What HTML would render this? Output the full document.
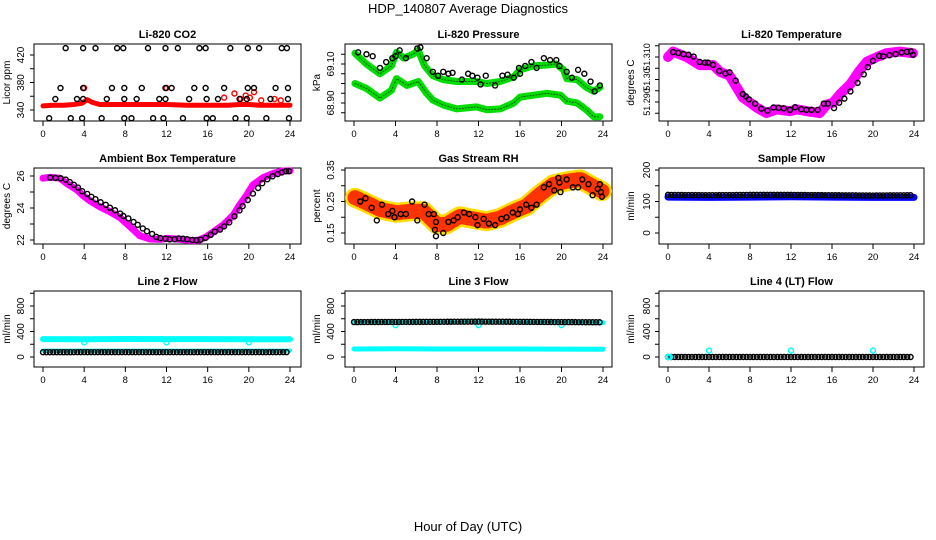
<!DOCTYPE html>
<html><head><meta charset="utf-8"><style>
body{margin:0;background:#fff}
svg{display:block;font-family:"Liberation Sans",sans-serif}
</style></head><body>
<svg id="c" width="936" height="540" viewBox="0 0 936 540">
<text x="468" y="13" text-anchor="middle" font-size="13">HDP_140807  Average Diagnostics</text>
<text x="468" y="531" text-anchor="middle" font-size="13">Hour of Day (UTC)</text>
</svg>
<script>
// ---- data ----
const xTicks=[0,4,8,12,16,20,24];
// CO2
const co2RedH=[0,1,2,3,3.8,4.3,4.8,5.5,6,8,10,12,14,16,17,18,19,20,21,22,23,24];
const co2RedV=[346,347,347,348,350,355,351,348,348,348,348,348,347,347,347,347,348,348,347,347,347,347];
const co2RedPtsH=[4,12,17.6,18.6,19.2,19.7,20.1,20.5,21.2,22.5,23.1];
const co2RedPtsV=[372,372,358,364,356,361,358,366,354,356,354];
const co2BlkH=[2.2,3.9,5.1,7.2,7.8,10.2,11.9,13.1,15.2,15.8,18.2,19.9,21.0,23.2,23.7,
1.7,3.9,6.7,7.9,9.6,11.9,12.5,14.7,15.8,17.6,19.9,20.5,22.6,23.8,
1.2,3.3,3.9,6.2,7.9,9.1,11.3,11.9,14.2,15.9,17.0,19.1,19.8,22.1,23.8,
0.6,2.7,3.8,5.7,7.9,8.6,10.7,11.7,13.6,15.9,16.5,18.7,19.8,21.7,23.9];
const co2BlkV=[430,430,430,430,430,430,430,430,430,430,430,430,430,430,430,
372,372,372,372,372,372,372,372,372,372,372,372,372,372,
356,356,356,356,356,356,356,356,356,356,356,356,356,356,356,
328,328,328,328,328,328,328,328,328,328,328,328,328,328,328];
// Pressure
const prUpH=[0.1,1.2,2.5,3.6,4.1,4.8,5.7,6.2,6.8,7.6,8.6,9.9,10.9,11.8,12.8,14.1,15.4,16.0,17.3,18.6,19.5,20.2,20.5,21.5,22.4,23.1,23.7];
const prUpV=[69.155,69.10,69.05,69.09,69.16,69.13,69.15,69.17,69.09,69.04,69.02,69.01,69.01,69.01,69.00,69.01,69.035,69.07,69.09,69.095,69.10,69.07,69.025,69.02,68.98,68.96,68.98];
const prLoH=[0.1,1.2,2.5,3.6,4.1,5.1,6.2,7.0,7.6,8.6,9.9,11.8,12.8,14.1,15.4,16.0,17.3,18.6,19.9,20.5,21.5,22.4,23.1,23.7];
const prLoV=[69.00,68.975,68.925,68.965,69.025,68.99,69.01,68.95,68.915,68.89,68.87,68.88,68.865,68.87,68.90,68.93,68.94,68.95,68.94,68.91,68.90,68.865,68.83,68.83];
const prBlkH=[0.4,1.2,1.8,2.5,3.1,3.7,4.0,4.4,5.0,6.1,6.4,7.0,7.6,8.1,8.6,9.1,9.5,10.4,11.0,11.4,11.9,12.2,12.7,13.6,14.3,14.8,15.4,15.9,16.0,16.5,17.1,17.6,18.3,18.9,19.5,19.8,20.5,21.0,21.6,22.2,22.8,23.2,23.7];
const prBlkV=[69.16,69.15,69.14,69.08,69.11,69.13,69.14,69.17,69.13,69.18,69.185,69.13,69.06,69.04,69.06,69.05,69.055,69.02,69.05,69.04,69.03,68.995,69.04,68.99,69.04,69.045,69.03,69.08,69.05,69.09,69.11,69.08,69.13,69.12,69.12,69.09,69.06,69.03,69.07,69.05,69.01,68.96,68.99];
// Li-820 temperature
const tmpH=[0,0.5,1.8,3.1,4.4,5.1,6.0,6.7,7.3,7.8,8.7,9.6,10.6,11.9,12.6,13.5,14.8,15.5,16.1,16.8,17.8,18.7,19.4,20.4,21.3,22.6,23.9];
const tmpV=[51.310,51.3124,51.310,51.3064,51.3064,51.3033,51.3018,51.2965,51.292,51.2904,51.2874,51.2851,51.2867,51.2859,51.2867,51.2859,51.2851,51.2889,51.2897,51.2935,51.298,51.304,51.3079,51.310,51.3117,51.3124,51.3117];
const tmpBlkH=[0.5,1.0,1.5,2.0,2.5,3.1,3.6,3.9,4.4,5.0,5.6,6.0,6.6,7.3,7.6,7.9,8.5,9.1,9.7,10.3,10.8,11.3,11.9,12.4,13.0,13.5,14.0,14.6,15.2,15.6,16.2,16.7,17.2,17.8,18.5,19.1,19.5,20.0,20.6,21.0,21.6,22.2,22.8,23.3,23.7,23.9];
const tmpBlkV=[51.3122,51.3118,51.3113,51.311,51.3102,51.3078,51.3075,51.3075,51.3065,51.3038,51.3027,51.3032,51.2995,51.2935,51.2925,51.2912,51.2893,51.287,51.2862,51.2876,51.2874,51.2872,51.2865,51.2877,51.2868,51.2865,51.2865,51.2865,51.2893,51.2893,51.2873,51.2897,51.2915,51.2947,51.2985,51.3023,51.3055,51.3083,51.3105,51.3103,51.3108,51.3113,51.3120,51.3123,51.3125,51.3110];
// Ambient
const ambH=[0.0,0.7,1.65,2.3,3.3,3.9,4.6,5.5,6.5,7.5,8.1,8.8,9.4,10.4,11.4,12.0,13.0,13.9,14.6,15.2,15.9,16.5,17.5,18.5,19.1,19.8,20.4,21.4,22.4,23.3,24.0];
const ambV=[25.86,25.92,25.86,25.54,25.13,24.77,24.44,24.08,23.77,23.39,23.04,22.63,22.27,22.06,22.04,22.1,22.06,22.0,21.96,22.0,22.21,22.48,22.94,23.56,24.19,24.81,25.44,25.9,26.17,26.31,26.33];
const ambBlkH=[0.7,1.2,1.7,2.2,2.6,3.0,3.4,3.8,4.3,4.7,5.1,5.6,6.1,6.5,7.0,7.5,7.8,8.3,8.8,9.2,9.7,10.1,10.6,11.0,11.4,11.9,12.3,12.8,13.2,13.6,14.0,14.5,14.9,15.3,15.8,16.3,16.7,17.2,17.6,18.1,18.6,19.1,19.4,19.9,20.4,20.9,21.3,21.8,22.3,22.8,23.2,23.6,23.9];
const ambBlkV=[25.9,25.88,25.86,25.78,25.62,25.45,25.28,25.05,24.88,24.7,24.55,24.36,24.2,24.02,23.86,23.65,23.5,23.35,23.13,22.95,22.72,22.55,22.38,22.2,22.12,22.08,22.04,22.05,22.1,22.08,22.05,22.0,21.99,22.02,22.13,22.32,22.52,22.65,22.85,23.1,23.48,23.85,24.12,24.5,24.9,25.25,25.55,25.8,25.98,26.12,26.22,26.3,26.3];
// RH
const rhH=[0.1,1.2,2.5,4.1,5.4,6.7,8.0,8.9,10.2,11.8,12.8,14.1,15.4,16.6,17.9,19.2,20.5,21.8,22.7,23.9];
const rhV=[0.262,0.246,0.225,0.214,0.219,0.219,0.177,0.177,0.203,0.193,0.187,0.198,0.219,0.235,0.272,0.304,0.314,0.320,0.304,0.283];
const rhBlkH=[0.6,1.1,1.7,2.2,2.7,3.3,3.7,3.9,4.5,5.0,5.6,6.1,6.8,7.2,7.7,7.9,7.8,7.9,8.6,9.1,9.6,10.0,10.6,11.1,11.7,11.9,12.5,13.0,13.6,14.2,14.7,15.3,15.8,16.0,16.6,17.1,17.6,18.3,18.8,19.3,19.7,19.8,19.9,20.5,21.1,21.6,22.0,22.6,23.0,23.5,23.7,23.8,23.9];
const rhBlkV=[0.25,0.26,0.23,0.19,0.24,0.21,0.22,0.2,0.21,0.21,0.25,0.19,0.24,0.21,0.21,0.185,0.16,0.14,0.15,0.185,0.19,0.2,0.215,0.21,0.2,0.175,0.195,0.18,0.175,0.195,0.2,0.215,0.21,0.225,0.24,0.23,0.24,0.295,0.305,0.285,0.325,0.31,0.28,0.32,0.295,0.295,0.32,0.305,0.27,0.29,0.305,0.28,0.265];
// Sample flow
const sfH=[0,4,8,12,16,20,24];
const sfBlue=[114,113,114,115,114,113,113];
const sfBlk=[121,120,121,121,120,119,120];
// Line 2 flow
const l2H=[0,4,8,12,16,20,24];
const l2CyanHi=[280,278,282,280,281,279,278];
const l2CyanLo=[100,100,100,100,100,100,100];
const l2Blk=[75,76,76,76,76,76,76];
const l2DipH=[4,12,20];
const l2DipV=[230,230,230];
// Line 3 flow
const l3H=[0,4,8,12,16,20,24];
const l3CyanHi=[545,545,555,558,550,545,540];
const l3CyanLo=[125,128,125,126,125,124,122];
const l3Blk=[548,550,552,555,552,548,545];
const l3DipH=[4,12,20];
const l3DipV=[500,500,500];
// Line 4 flow
const l4H=[0,4,8,12,16,20,24];
const l4Blk=[0,0,0,0,0,0,0];
const l4CyanH=[0,0.2,4,12,20];
const l4CyanV=[0,0,100,100,100];

// ---- rendering ----
const svg=document.getElementById('c');
const NS='http://www.w3.org/2000/svg';
function mk(tag,attrs,parent){const e=document.createElementNS(NS,tag);for(const k in attrs)e.setAttribute(k,attrs[k]);(parent||svg).appendChild(e);return e;}
const cols=[{l:34,r:301,x0:43,x24:290,tl:20,tt:6},{l:345,r:612,x0:354,x24:603,tl:330,tt:316},{l:659,r:924,x0:668,x24:914,tl:646,tt:630}];
const rows=[{t:44,b:121},{t:168,b:244},{t:291,b:367}];
function panel(ci,ri,title,ytitle,v1,p1,v2,p2,ticks,labels,labelTxt,lfs){
  const c=cols[ci],r=rows[ri];
  const g=mk('g',{});
  
  
  const X=h=>c.x0+(c.x24-c.x0)*h/24;
  const Y=v=>p1+(v-v1)*(p2-p1)/(v2-v1);
  const box=mk('rect',{x:c.l,y:r.t,width:c.r-c.l,height:r.b-r.t,fill:'none',stroke:'#000','stroke-width':1},g);
  
  
  const tt=mk('text',{x:(c.l+c.r)/2,y:r.t-6,'text-anchor':'middle','font-size':11,'font-weight':'bold'},g);
  tt.textContent=title;
  
  
  const yt=mk('text',{x:0,y:0,'text-anchor':'middle','font-size':10,transform:`translate(${c.tt+4},${(r.t+r.b)/2}) rotate(-90)`},g);
  yt.textContent=ytitle;
  
  
  ticks.forEach(v=>{mk('line',{x1:c.l-4,x2:c.l,y1:Y(v),y2:Y(v),stroke:'#000'},g);});
  labels.forEach((v,i)=>{const t=mk('text',{x:0,y:0,'text-anchor':'middle','font-size':lfs||10,transform:`translate(${c.tl+4},${Y(v)}) rotate(-90)`},g);t.textContent=labelTxt?labelTxt[i]:String(v);
    
    });
  xTicks.forEach(h=>{mk('line',{x1:X(h),x2:X(h),y1:r.b,y2:r.b+5,stroke:'#000'},g);
    const t=mk('text',{x:X(h),y:r.b+16,'text-anchor':'middle','font-size':9.5},g);t.textContent=h;
    
    });
  const clip=mk('g',{},g);
  return {g:clip,X,Y};
}
function band(P,H,V,color,w,name){
  const pts=H.map((h,i)=>P.X(h).toFixed(1)+','+P.Y(V[i]).toFixed(1)).join(' ');
  const e=mk('polyline',{points:pts,fill:'none',stroke:color,'stroke-width':w,'stroke-linejoin':'round','stroke-linecap':'round'},P.g);
  
  
  return e;
}
function pts(P,H,V,color,name,r){
  H.forEach((h,i)=>{const e=mk('circle',{cx:P.X(h),cy:P.Y(V[i]),r:r||2.5,fill:'none',stroke:color,'stroke-width':1.4},P.g);
    
    });
}
function along(P,H,V,color,name,step){
  for(let i=0;i<H.length-1;i++){
    const n=Math.round((H[i+1]-H[i])/step);
    for(let k=0;k<n;k++){const f=k/n;const h=H[i]+(H[i+1]-H[i])*f;const v=V[i]+(V[i+1]-V[i])*f;
      const e=mk('circle',{cx:P.X(h),cy:P.Y(v),r:2.5,fill:'none',stroke:color,'stroke-width':1.4},P.g);
      
      }
  }
}
// CO2
let P=panel(0,0,'Li-820 CO2','Licor ppm',340,110,420,55,[340,360,380,400,420],[340,380,420]);
band(P,co2RedH,co2RedV,'#ff0000',5,'co2-red-series');
pts(P,co2RedPtsH,co2RedPtsV,'#ff0000','co2-red-point');
pts(P,co2BlkH,co2BlkV,'#000','co2-black-point');
// Pressure
P=panel(1,0,'Li-820 Pressure','kPa',69.10,64,68.90,103,[68.85,68.90,68.95,69.00,69.05,69.10,69.15],[68.90,69.10],['68.90','69.10']);
band(P,prUpH,prUpV,'#00dd00',7,'pressure-green-upper');
band(P,prLoH,prLoV,'#00dd00',7,'pressure-green-lower');
band(P,prUpH,prUpV,'#005500',1,'pressure-green-texture').setAttribute('stroke-dasharray','1 2');
band(P,prLoH,prLoV,'#005500',1,'pressure-green-texture-lower').setAttribute('stroke-dasharray','1 2');
pts(P,prBlkH,prBlkV,'#000','pressure-black-point');
// Li-820 temperature
P=panel(2,0,'Li-820 Temperature','degrees C',51.310,57,51.290,102,[51.285,51.290,51.295,51.300,51.305,51.310,51.315],[51.290,51.300,51.310],['51.290','51.30','51.310'],9);
band(P,tmpH,tmpV,'#ff00ff',10,'li820-temp-magenta');
pts(P,tmpBlkH,tmpBlkV,'#000','li820-temp-black-point');
// Ambient
P=panel(0,1,'Ambient Box Temperature','degrees C',26,176,22,240,[22,23,24,25,26],[22,24,26]);
band(P,ambH,ambV,'#ff00ff',7,'ambient-magenta');
pts(P,ambBlkH,ambBlkV,'#000','ambient-black-point');
// RH
P=panel(1,1,'Gas Stream RH','percent',0.35,170,0.15,233,[0.15,0.20,0.25,0.30,0.35],[0.15,0.25,0.35],['0.15','0.25','0.35']);
band(P,rhH,rhV,'#ffdd00',20,'rh-yellow-band');
band(P,rhH,rhV,'#ff3300',15,'rh-red-texture').setAttribute('stroke-dasharray','1.5 2.5');
pts(P,rhBlkH,rhBlkV,'#000','rh-black-point');
// Sample flow
P=panel(2,1,'Sample Flow','ml/min',200,170,0,233,[0,50,100,150,200],[0,100,200]);
band(P,sfH,sfBlue,'#0000ff',7,'sample-flow-blue');
along(P,sfH,sfBlk,'#000','sample-flow-black-point',0.33);
// Line 2
P=panel(0,2,'Line 2 Flow','ml/min',0,357,800,306,[0,200,400,600,800,1000],[0,400,800]);
band(P,l2H,l2CyanHi,'#00ffff',6,'line2-cyan-upper');
band(P,l2H,l2CyanLo,'#00ffff',4,'line2-cyan-lower');
pts(P,l2DipH,l2DipV,'#00ffff','line2-cyan-dip');
along(P,l2H,l2Blk,'#000','line2-black-point',0.33);
// Line 3
P=panel(1,2,'Line 3 Flow','ml/min',0,357,800,306,[0,200,400,600,800,1000],[0,400,800]);
band(P,l3H,l3CyanHi,'#00ffff',5,'line3-cyan-upper');
band(P,l3H,l3CyanLo,'#00ffff',5,'line3-cyan-lower');
pts(P,l3DipH,l3DipV,'#00ffff','line3-cyan-dip');
along(P,l3H,l3Blk,'#000','line3-black-point',0.33);
// Line 4
P=panel(2,2,'Line 4 (LT) Flow','ml/min',0,357,800,306,[0,200,400,600,800,1000],[0,400,800]);
along(P,l4H,l4Blk,'#000','line4-black-point',0.33);
pts(P,l4CyanH,l4CyanV,'#00ffff','line4-cyan-point');
</script>
</body></html>
